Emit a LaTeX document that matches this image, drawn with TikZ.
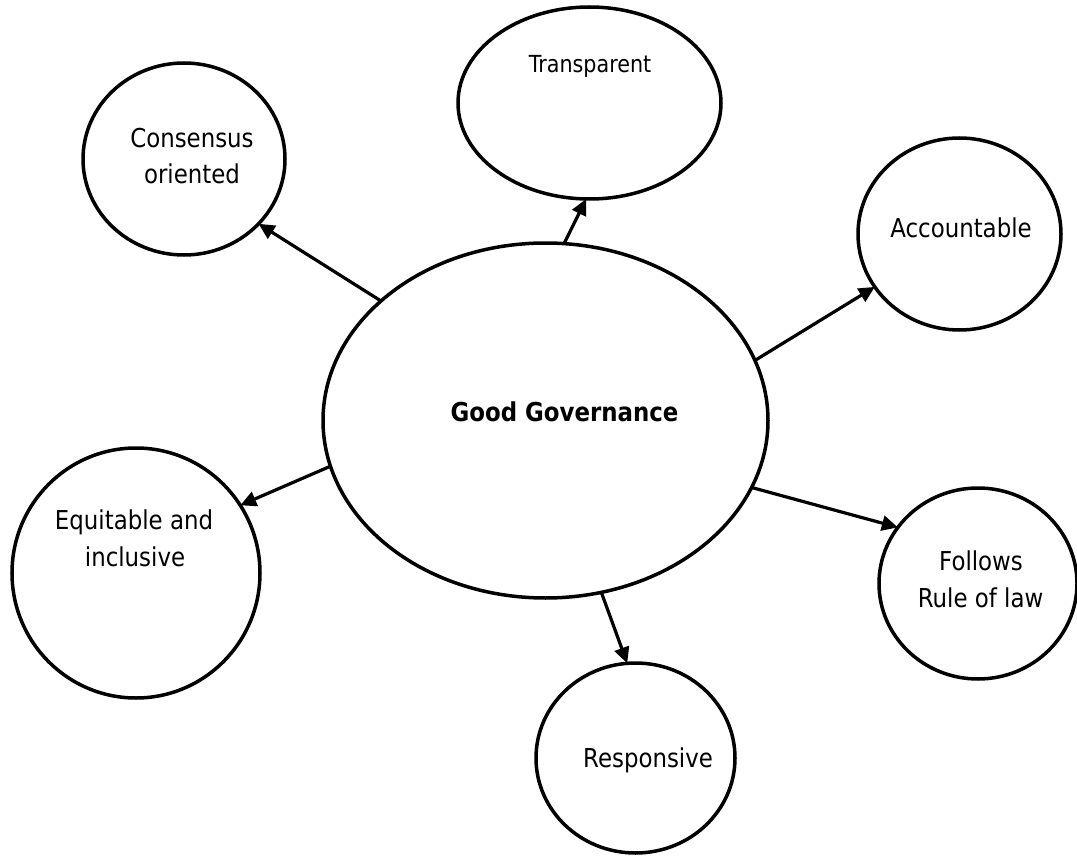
\documentclass[tikz,border=0pt]{standalone}
\usepackage{fontspec}
\setmainfont[FakeStretch=0.88]{DejaVu Sans}
\usetikzlibrary{shapes.geometric,arrows.meta}
\tikzset{
  bubble/.style={ellipse,draw=black,line width=3.5pt,inner sep=0pt,outer sep=0pt},
  lbl/.style={anchor=base,inner sep=0pt,font=\fontsize{26}{37}\selectfont},
  lblsmall/.style={anchor=base,inner sep=0pt,font=\fontsize{23.5}{30}\selectfont},
  link/.style={line width=3.2pt,-{Triangle[length=16pt,width=15pt]}}
}
\begin{document}
\begin{tikzpicture}[x=1pt,y=-1pt]
\useasboundingbox[fill=white] (0,0) rectangle (1077,856);
% ellipses
\node[bubble,minimum width=445pt,minimum height=355pt] (g) at (545.5,420.5) {};
\node[bubble,minimum width=263pt,minimum height=192pt] (t) at (589.5,103) {};
\node[bubble,minimum width=202pt,minimum height=192pt] (c) at (184,159) {};
\node[bubble,minimum width=203pt,minimum height=192pt] (a) at (959.5,234) {};
\node[bubble,minimum width=248pt,minimum height=250pt] (e) at (136,573) {};
\node[bubble,minimum width=198pt,minimum height=191pt] (f) at (978,583.5) {};
\node[bubble,minimum width=199pt,minimum height=190pt] (r) at (635.5,758) {};
% texts
\node[lbl,font=\fontsize{26}{37}\selectfont\bfseries] (gt) at (564.5,421) {Good Governance};
\node[lblsmall] (tt) at (590,73) {Transparent};
\node[lbl] (ct1) at (192,148) {Consensus};
\node[lbl] (ct2) at (192,184) {oriented};
\node[lbl] (at) at (961,237) {Accountable};
\node[lbl] (et1) at (134,529) {Equitable and};
\node[lbl] (et2) at (135,566) {inclusive};
\node[lbl] (ft1) at (981,570) {Follows};
\node[lbl] (ft2) at (980.5,607) {Rule of law};
\node[lbl] (rt) at (648,767) {Responsive};
% connectors
\draw[link] (g.144.7) -- (c.-41);
\draw[link] (g.84.7) -- (t.-92.9);
\draw[link] (g.16.8) -- (a.212.4);
\draw[link] (g.192.1) -- (e.33.6);
\draw[link] (g.-18.6) -- (f.145.4);
\draw[link] (g.-72.4) -- (r.95.1);
\end{tikzpicture}
\end{document}
